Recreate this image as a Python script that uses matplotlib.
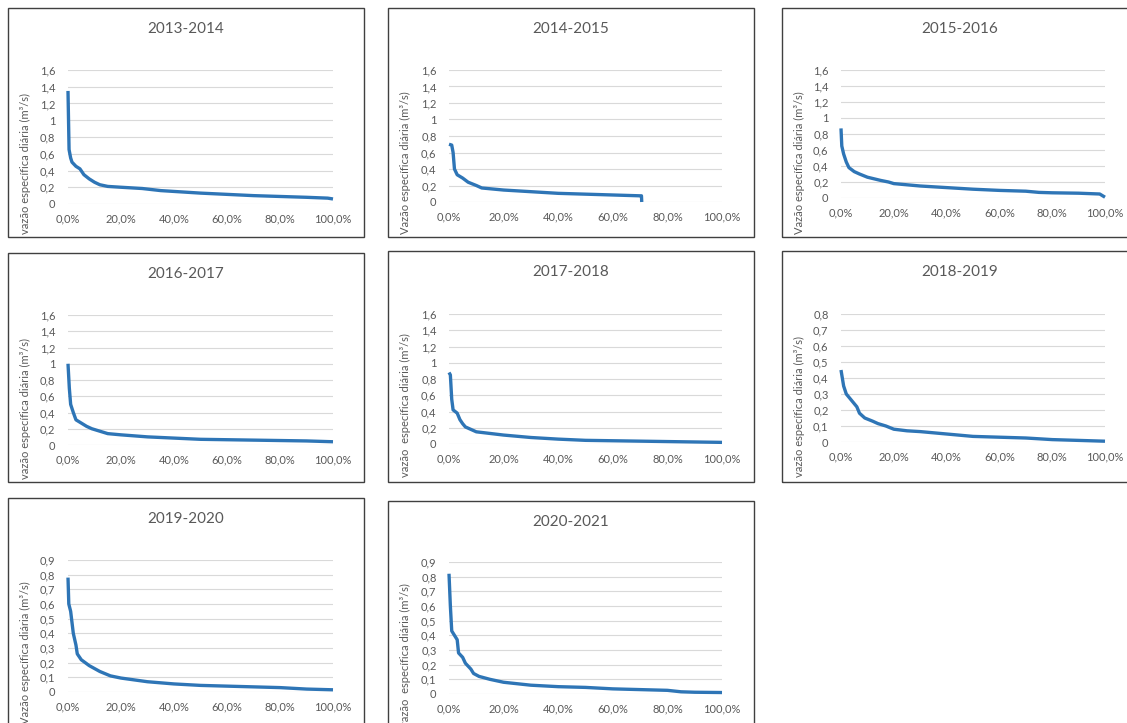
import matplotlib
matplotlib.use("Agg")
import matplotlib.pyplot as plt
import numpy as np
from matplotlib.patches import Rectangle
from matplotlib.ticker import FuncFormatter, MultipleLocator

plt.rcParams['font.family'] = ['Lato', 'DejaVu Sans']

W, H = 1127, 723

titles = ["2013-2014", "2014-2015", "2015-2016", "2016-2017",
          "2017-2018", "2018-2019", "2019-2020", "2020-2021"]

ylabels = ["vazão específica diária (m³/s)",
           "Vazão específica diária (m³/s)",
           "Vazão específica diária (m³/s)",
           "vazão específica diária (m³/s)",
           "vazão  específica diária (m³/s)",
           "vazão específica diária (m³/s)",
           "Vazão específica diária (m³/s)",
           "vazão  específica diária (m³/s)"]

# permanence (fraction of time) and specific flow
p_1314 = [0, 0.002, 0.004, 0.01, 0.015, 0.03, 0.045, 0.06, 0.08, 0.10, 0.12, 0.15, 0.20, 0.28, 0.35, 0.40, 0.50, 0.60, 0.70, 0.80, 0.90, 0.98, 1.0]
q_1314 = [1.35, 1.0, 0.65, 0.55, 0.50, 0.45, 0.42, 0.35, 0.30, 0.26, 0.23, 0.21, 0.20, 0.185, 0.16, 0.15, 0.13, 0.115, 0.10, 0.09, 0.08, 0.07, 0.06]

p_1415 = [0, 0.01, 0.015, 0.02, 0.03, 0.05, 0.07, 0.10, 0.12, 0.20, 0.30, 0.40, 0.50, 0.60, 0.70, 0.705, 0.706]
q_1415 = [0.70, 0.69, 0.60, 0.40, 0.33, 0.29, 0.24, 0.20, 0.17, 0.145, 0.125, 0.105, 0.095, 0.085, 0.075, 0.075, 0.0]

p_1516 = [0, 0.003, 0.01, 0.02, 0.03, 0.05, 0.07, 0.10, 0.15, 0.18, 0.20, 0.30, 0.40, 0.50, 0.60, 0.70, 0.75, 0.80, 0.90, 0.98, 0.99, 1.0]
q_1516 = [0.87, 0.65, 0.55, 0.45, 0.38, 0.33, 0.30, 0.26, 0.22, 0.20, 0.18, 0.15, 0.13, 0.11, 0.095, 0.085, 0.07, 0.065, 0.06, 0.05, 0.03, 0.01]

p_1617 = [0, 0.005, 0.01, 0.02, 0.03, 0.05, 0.07, 0.09, 0.12, 0.15, 0.20, 0.30, 0.40, 0.50, 0.60, 0.70, 0.80, 0.90, 1.0]
q_1617 = [1.0, 0.70, 0.50, 0.40, 0.31, 0.27, 0.23, 0.20, 0.17, 0.14, 0.125, 0.10, 0.085, 0.07, 0.065, 0.06, 0.055, 0.05, 0.04]

p_1718 = [0, 0.005, 0.01, 0.015, 0.03, 0.04, 0.05, 0.06, 0.08, 0.10, 0.15, 0.20, 0.30, 0.40, 0.50, 0.60, 0.70, 0.80, 0.90, 1.0]
q_1718 = [0.88, 0.85, 0.55, 0.42, 0.38, 0.30, 0.25, 0.21, 0.18, 0.15, 0.13, 0.11, 0.08, 0.06, 0.045, 0.04, 0.035, 0.03, 0.025, 0.02]

p_1819 = [0, 0.01, 0.02, 0.04, 0.06, 0.07, 0.09, 0.12, 0.14, 0.17, 0.20, 0.25, 0.30, 0.40, 0.50, 0.60, 0.70, 0.80, 0.90, 1.0]
q_1819 = [0.45, 0.35, 0.30, 0.26, 0.22, 0.18, 0.15, 0.13, 0.115, 0.10, 0.08, 0.07, 0.065, 0.05, 0.035, 0.03, 0.025, 0.015, 0.01, 0.005]

p_1920 = [0, 0.003, 0.01, 0.02, 0.03, 0.035, 0.05, 0.08, 0.12, 0.16, 0.20, 0.30, 0.40, 0.50, 0.60, 0.70, 0.80, 0.90, 1.0]
q_1920 = [0.78, 0.60, 0.55, 0.40, 0.32, 0.26, 0.22, 0.18, 0.14, 0.11, 0.095, 0.07, 0.055, 0.045, 0.04, 0.035, 0.03, 0.02, 0.015]

p_2021 = [0, 0.005, 0.01, 0.02, 0.03, 0.035, 0.05, 0.06, 0.08, 0.09, 0.11, 0.15, 0.20, 0.30, 0.40, 0.50, 0.60, 0.70, 0.80, 0.85, 0.90, 1.0]
q_2021 = [0.82, 0.60, 0.43, 0.40, 0.37, 0.28, 0.25, 0.21, 0.17, 0.14, 0.12, 0.10, 0.08, 0.06, 0.05, 0.045, 0.035, 0.03, 0.025, 0.015, 0.012, 0.01]

series = [(p_1314, q_1314), (p_1415, q_1415), (p_1516, q_1516), (p_1617, q_1617),
          (p_1718, q_1718), (p_1819, q_1819), (p_1920, q_1920), (p_2021, q_2021)]

ymax = [1.6, 1.6, 1.6, 1.6, 1.6, 0.8, 0.9, 0.9]
ystep = [0.2, 0.2, 0.2, 0.2, 0.2, 0.1, 0.1, 0.1]

# layout in pixels: box (left, top, right, bottom), plot (x0, x1, ytop, yzero)
boxes = [(8, 8, 364, 237), (388, 8, 754, 237), (782, 8, 1138, 237),
         (8, 253, 364, 482), (388, 251, 754, 482), (782, 251, 1138, 482),
         (8, 498, 364, 727), (388, 501, 754, 730)]
plots = [(68, 333, 70, 204), (449, 722, 70, 202), (841, 1105, 70, 198),
         (68, 333, 315, 445), (449, 722, 314, 444), (841, 1105, 314, 442),
         (68, 333, 560, 692), (449, 722, 562, 694)]

gray = '#595959'
blue = '#2E75B6'

fig = plt.figure(figsize=(W / 100, H / 100), dpi=100)

def fmt_y(v, pos):
    s = ('%.1f' % v).replace('.', ',')
    if s.endswith(',0'):
        s = s[:-2]
    return s

for i in range(8):
    bl, bt, br, bb = boxes[i]
    fig.patches.append(Rectangle((bl / W, 1 - bb / H), (br - bl) / W, (bb - bt) / H,
                                 transform=fig.transFigure, fill=False,
                                 edgecolor='#404040', linewidth=1.0))
    x0, x1, yt, yz = plots[i]
    ax = fig.add_axes([x0 / W, 1 - yz / H, (x1 - x0) / W, (yz - yt) / H])
    p, q = series[i]
    ax.plot(p, q, color=blue, linewidth=2.4, solid_capstyle='butt', clip_on=False)
    ax.set_xlim(0, 1)
    ax.set_ylim(0, ymax[i])
    ax.xaxis.set_major_locator(MultipleLocator(0.2))
    ax.yaxis.set_major_locator(MultipleLocator(ystep[i]))
    ax.xaxis.set_major_formatter(FuncFormatter(lambda v, pos: ('%.1f%%' % (v * 100)).replace('.', ',')))
    ax.yaxis.set_major_formatter(FuncFormatter(fmt_y))
    ax.grid(axis='y', color='#D9D9D9', linewidth=0.8)
    ax.set_axisbelow(True)
    for s in ax.spines.values():
        s.set_visible(False)
    ax.tick_params(length=0, labelsize=8, colors=gray, pad=7)
    ax.tick_params(axis='y', pad=9)
    ax.set_facecolor('none')
    fig.text((bl + br) / 2 / W, 1 - (bt + 21) / H, titles[i], ha='center', va='center',
             fontsize=11, color=gray)
    fig.text((bl + 17) / W, 1 - (bt + 226) / H, ylabels[i], rotation=90, ha='center',
             va='bottom', fontsize=8, color=gray)

fig.savefig('out.png', dpi=100)
